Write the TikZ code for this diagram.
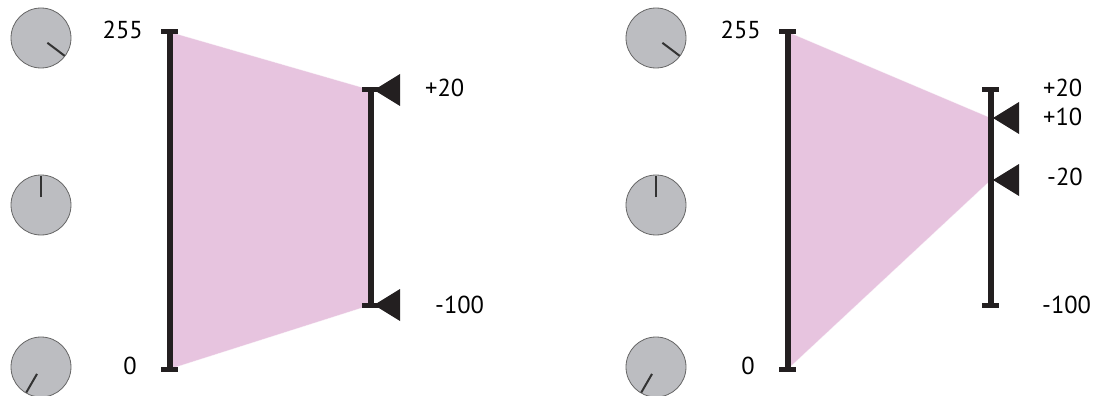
\documentclass[tikz,border=0pt]{standalone}
\usepackage{fontspec}
\setmainfont{PT Sans}
\definecolor{barblack}{RGB}{35,31,32}
\definecolor{knobgray}{RGB}{188,189,193}
\definecolor{rangepink}{RGB}{231,196,223}
\begin{document}
\begin{tikzpicture}[x=1pt, y=-1pt, font=\fontsize{24.5}{29}\selectfont,
    knob/.style={fill=knobgray, draw=black!60, line width=0.8pt},
    needle/.style={draw=black!80, line width=2pt},
    bar/.style={draw=barblack, line width=6pt},
    barcap/.style={draw=barblack, line width=5pt},
    marker/.style={fill=barblack},
    pinkband/.style={fill=rangepink, draw=white, draw opacity=0.5, line width=0.6pt}]
    \useasboundingbox (0,0) rectangle (1096,396);

    % both ends of the range move
    \begin{scope}
        \foreach \y/\a in {38/37, 205/-90, 367/120} {
            \draw[knob] (41,\y) circle (30);
            \draw[needle, shift={(41,\y)}] (\a:8) -- (\a:29.5);
        }

        \coordinate (in-top) at (170,32);
        \coordinate (in-bot) at (170,369);
        \coordinate (out-top) at (371,90);
        \coordinate (out-bot) at (371,305);

        \filldraw[pinkband] (in-top) -- (out-top) -- (out-bot) -- (in-bot) -- cycle;

        \draw[bar] (in-top) -- (in-bot);
        \draw[barcap] (161,32) -- (178,32);
        \draw[barcap] (161,369) -- (178,369);

        \draw[bar] (out-top) -- (out-bot);
        \draw[barcap] (362,90) -- (379,90);
        \draw[barcap] (362,305) -- (379,305);

        \fill[marker] (out-top) ++(3,0) -- ++(26,-16) -- ++(0,32) -- cycle;
        \fill[marker] (out-bot) ++(3,0) -- ++(26,-16) -- ++(0,32) -- cycle;

        \node[anchor=east, inner sep=0pt] (in-max) at (143,29.5) {255};
        \node[anchor=east, inner sep=0pt] (in-min) at (137,366) {0};
        \node[anchor=west, inner sep=0pt] (out-max) at (425,88) {+20};
        \node[anchor=west, inner sep=0pt] (out-min) at (435,305) {-100};
    \end{scope}

    % range squeezed inside the output scale
    \begin{scope}[shift={(615,0)}]
        \foreach \y/\a in {38/37, 205/-90, 367/120} {
            \draw[knob] (41,\y) circle (30);
            \draw[needle, shift={(41,\y)}] (\a:8) -- (\a:29.5);
        }

        \coordinate (in-top) at (173,32);
        \coordinate (in-bot) at (173,369);
        \coordinate (out-top) at (376,90);
        \coordinate (out-bot) at (376,305);
        \coordinate (out-hi) at (376,118);
        \coordinate (out-lo) at (376,180);

        \filldraw[pinkband] (in-top) -- (out-hi) -- (out-lo) -- (in-bot) -- cycle;

        \draw[bar] (in-top) -- (in-bot);
        \draw[barcap] (164,32) -- (181,32);
        \draw[barcap] (164,369) -- (181,369);

        \draw[bar] (out-top) -- (out-bot);
        \draw[barcap] (367,90) -- (384,90);
        \draw[barcap] (367,305) -- (384,305);

        \fill[marker] (out-hi) ++(2,0) -- ++(26,-16) -- ++(0,32) -- cycle;
        \fill[marker] (out-lo) ++(2,0) -- ++(26,-16) -- ++(0,32) -- cycle;

        \node[anchor=east, inner sep=0pt] (in-max) at (146,29.5) {255};
        \node[anchor=east, inner sep=0pt] (in-min) at (140,366) {0};
        \node[anchor=west, inner sep=0pt] (out-max) at (428,88) {+20};
        \node[anchor=west, inner sep=0pt] (out-hi-lbl) at (428,117) {+10};
        \node[anchor=west, inner sep=0pt] (out-lo-lbl) at (432,177) {-20};
        \node[anchor=west, inner sep=0pt] (out-min) at (427,305) {-100};
    \end{scope}
\end{tikzpicture}
\end{document}
